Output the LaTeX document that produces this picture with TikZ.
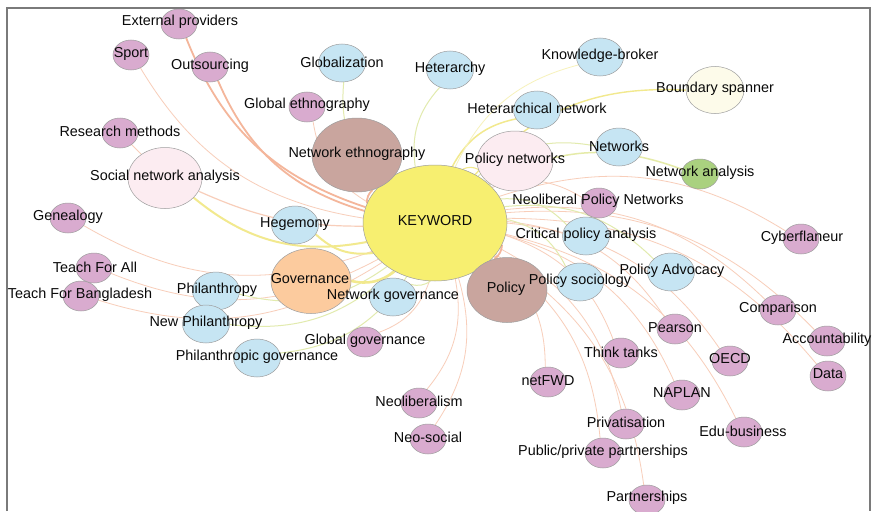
\documentclass[tikz,border=0pt]{standalone}
\usepackage{fontspec}
\setmainfont{Liberation Sans}
\usetikzlibrary{shapes.geometric,backgrounds}
\definecolor{cpink}{HTML}{D9ABCF}
\definecolor{cblue}{HTML}{C6E5F3}
\definecolor{cbrown}{HTML}{C9A59E}
\definecolor{cyel}{HTML}{F7EF70}
\definecolor{corange}{HTML}{FCCB9E}
\definecolor{cpale}{HTML}{FCECF1}
\definecolor{cpaley}{HTML}{FDFBEA}
\definecolor{cgreen}{HTML}{AAD17F}
\definecolor{ctext}{HTML}{0A0A0A}
\definecolor{cedgeo}{HTML}{F8CEBA}
\definecolor{cedgeO}{HTML}{F4B69B}
\definecolor{cedgeg}{HTML}{E2EBAE}
\definecolor{cedgey}{HTML}{F2E98E}
\definecolor{cframe}{HTML}{7A7A7A}
\begin{document}
\begin{tikzpicture}[x=1pt,y=-1pt,
  bub/.style={ellipse,draw=black!38,line width=0.5pt,inner sep=0pt},
  pk/.style={bub,fill=cpink,minimum width=36pt,minimum height=30pt},
  bl/.style={bub,fill=cblue,minimum width=47pt,minimum height=38pt},
  lbl/.style={font=\fontsize{14.4}{16}\selectfont,text=ctext,inner sep=0pt},
  eo/.style={draw=cedgeo,line width=0.8pt},
  eO/.style={draw=cedgeO,line width=1.8pt},
  eg/.style={draw=cedgeg,line width=1pt},
  ey/.style={draw=cedgey,line width=2pt},
  bd/.style={bend left=25}
]
\useasboundingbox (0,0) rectangle (872,511);

% big nodes
\node[bub,fill=cyel,minimum width=144pt,minimum height=116pt] (kw) at (435,223) {};
\node[bub,fill=cbrown,minimum width=90pt,minimum height=74pt] (neth) at (357,155) {};
\node[bub,fill=cpale,minimum width=76pt,minimum height=60pt] (pnet) at (515,161) {};
\node[bub,fill=cpale,minimum width=74pt,minimum height=61pt] (sna) at (165,178) {};
\node[bub,fill=corange,minimum width=80pt,minimum height=65pt] (gov) at (311,281) {};
\node[bub,fill=cbrown,minimum width=80pt,minimum height=65pt] (pol) at (507,290) {};
\node[bub,fill=cpaley,minimum width=58pt,minimum height=47pt] (bsp) at (715,90) {};
\node[bub,fill=cgreen,minimum width=37pt,minimum height=30pt] (nana) at (700,174) {};

% blue nodes
\node[bl] (glob) at (342,63) {};
\node[bl] (heter) at (450,70) {};
\node[bl] (kb) at (600,57) {};
\node[bl] (hnet) at (537,110) {};
\node[bl] (netw) at (619,147) {};
\node[bl] (cpa) at (586,236) {};
\node[bl] (psoc) at (580,282) {};
\node[bl] (padv) at (671,272) {};
\node[bl] (hege) at (295,225) {};
\node[bl] (ngov) at (393,297) {};
\node[bl] (phil) at (216,291) {};
\node[bl] (nphil) at (206,324) {};
\node[bl] (pgov) at (257,358) {};

% pink nodes
\node[pk] (ext) at (179,24) {};
\node[pk] (sport) at (131,55) {};
\node[pk] (outs) at (210,67) {};
\node[pk] (gleth) at (307,107) {};
\node[pk] (resm) at (120,133) {};
\node[pk] (gene) at (68,218) {};
\node[pk] (tfa) at (94,268) {};
\node[pk] (tfb) at (81,296) {};
\node[pk] (glgov) at (365,342) {};
\node[pk] (neolib) at (419,403) {};
\node[pk] (neosoc) at (428,439) {};
\node[pk] (netfwd) at (548,382) {};
\node[pk] (nlpn) at (599,203) {};
\node[pk] (cyber) at (801,239) {};
\node[pk] (comp) at (778,310) {};
\node[pk] (pears) at (675,329) {};
\node[pk] (acct) at (827,341) {};
\node[pk] (think) at (621,353) {};
\node[pk] (oecd) at (730,361) {};
\node[pk] (data) at (828,376) {};
\node[pk] (naplan) at (682,395) {};
\node[pk] (priv) at (626,424) {};
\node[pk] (edu) at (744,432) {};
\node[pk] (ppp) at (603,453) {};
\node[pk] (partn) at (647,500) {};

% edges
\begin{scope}[on background layer]
\fill[white] (0,0) rectangle (872,511);
\foreach \t in {sport,gleth,gene,tfa,tfb,glgov,neolib,neosoc,netfwd,nlpn,cyber,comp,pears,acct,think,oecd,data,naplan,priv,edu,ppp,partn}
  \draw[eo] (kw) to[bd] (\t);
\foreach \t in {glob,heter,netw,cpa,psoc,padv,ngov,phil,nphil,pgov}
  \draw[eg] (kw) to[bd] (\t);
\draw[eO] (kw) to[bd] (ext);
\draw[eO] (kw) to[bd] (outs);
\draw[eO] (kw) to[bd] (neth);
\draw[eO] (kw) to[bd] (pol);
\draw[eo] (resm) -- (sna);
\draw[ey] (kw) to[bd] (sna);
\draw[eo,line width=1.2pt] (kw) to[bend left=12] (sna);
\draw[ey] (kw) to[bd] (hege);
\draw[ey,line width=2.6pt] (kw) to[bd] (gov);
\draw[ey,line width=1.5pt] (kw) to[bd] (hnet);
\draw[ey,line width=1.4pt] (kw) to[bd] (bsp);
\draw[ey,line width=1.1pt] (kw) to[bd] (pnet);
\draw[draw=cedgey!60,line width=0.8pt] (kw) to[bd] (kb);
\draw[draw=cedgeg!80!cedgey,line width=1.5pt] (kw) to[bd] (nana);
\end{scope}

% frame
\draw[cframe,line width=1.2pt] (7,511) -- (7,8) -- (870,8) -- (870,511);

% labels
\node[lbl] at (435,221) {KEYWORD};
\node[lbl] at (357,154) {Network ethnography};
\node[lbl] at (515,160) {Policy networks};
\node[lbl] at (165,177) {Social network analysis};
\node[lbl] at (310,279) {Governance};
\node[lbl] at (506,289) {Policy};
\node[lbl] at (715,89) {Boundary spanner};
\node[lbl] at (700,173) {Network analysis};
\node[lbl] at (342,62) {Globalization};
\node[lbl] at (450,69) {Heterarchy};
\node[lbl] at (600,56) {Knowledge-broker};
\node[lbl] at (537,108) {Heterarchical network};
\node[lbl] at (619,146) {Networks};
\node[lbl] at (586,235) {Critical policy analysis};
\node[lbl] at (580,281) {Policy sociology};
\node[lbl] at (672,271) {Policy Advocacy};
\node[lbl] at (295,224) {Hegemony};
\node[lbl] at (393,296) {Network governance};
\node[lbl] at (217,290) {Philanthropy};
\node[lbl] at (206,323) {New Philanthropy};
\node[lbl] at (257,357) {Philanthropic governance};
\node[lbl] at (180,22) {External providers};
\node[lbl] at (131,54) {Sport};
\node[lbl] at (210,66) {Outsourcing};
\node[lbl] at (307,105) {Global ethnography};
\node[lbl] at (120,131) {Research methods};
\node[lbl] at (68,217) {Genealogy};
\node[lbl] at (95,267) {Teach For All};
\node[lbl] at (80,295) {Teach For Bangladesh};
\node[lbl] at (365,341) {Global governance};
\node[lbl] at (419,401) {Neoliberalism};
\node[lbl] at (428,437) {Neo-social};
\node[lbl] at (548,381) {netFWD};
\node[lbl] at (598,201) {Neoliberal Policy Networks};
\node[lbl] at (802,238) {Cyberflaneur};
\node[lbl] at (778,309) {Comparison};
\node[lbl] at (675,328) {Pearson};
\node[lbl] at (827,340) {Accountability};
\node[lbl] at (621,352) {Think tanks};
\node[lbl] at (730,359) {OECD};
\node[lbl] at (828,374) {Data};
\node[lbl] at (682,393) {NAPLAN};
\node[lbl] at (626,422) {Privatisation};
\node[lbl] at (743,431) {Edu-business};
\node[lbl] at (603,452) {Public/private partnerships};
\node[lbl] at (647,498) {Partnerships};
\end{tikzpicture}
\end{document}
